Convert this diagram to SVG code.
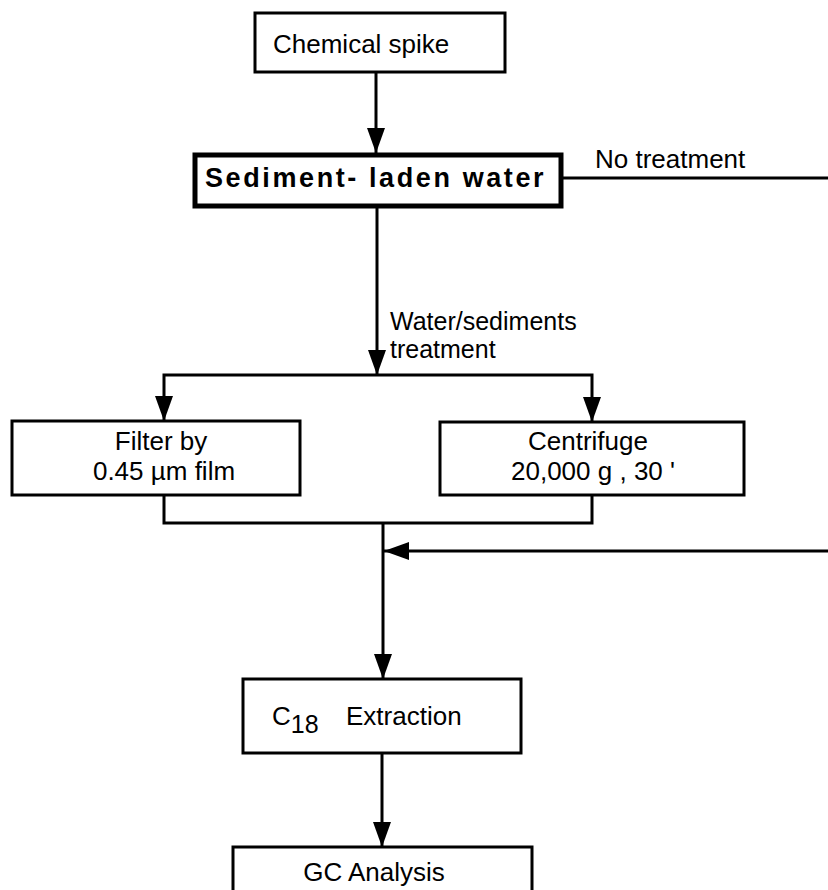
<svg xmlns="http://www.w3.org/2000/svg" width="828" height="890" viewBox="0 0 828 890">
<style>
  .box { fill: #fff; stroke: #000; stroke-width: 3; }
  .thick { fill: #fff; stroke: #000; stroke-width: 5; }
  .t { font-family: "Liberation Sans", Arial, sans-serif; font-size: 26px; fill: #000; }
  .lbl { font-family: "Liberation Sans", Arial, sans-serif; font-size: 25px; fill: #000; }
  .b { font-family: "Liberation Sans", Arial, sans-serif; font-size: 27px; font-weight: bold; fill: #000; letter-spacing: 2.6px; }
  .c { fill: none; stroke: #000; stroke-width: 3; }
</style>
<defs>
  <marker id="arr" markerUnits="userSpaceOnUse" markerWidth="26" markerHeight="20" refX="25" refY="10" orient="auto">
    <path d="M0,1 L25,10 L0,19 z" fill="#000"/>
  </marker>
</defs>
<rect width="828" height="890" fill="#fff"/>
<g id="connectors">
  <path class="c" d="M376,72 V153" marker-end="url(#arr)"/>
  <path class="c" d="M377,207 V375" marker-end="url(#arr)"/>
  <path class="c" d="M377,375 H164 V421" marker-end="url(#arr)"/>
  <path class="c" d="M377,375 H592 V422" marker-end="url(#arr)"/>
  <path class="c" d="M164,495 V523 H592 V495"/>
  <path class="c" d="M383,523 V679" marker-end="url(#arr)"/>
  <path class="c" d="M563,178 H828"/>
  <path class="c" d="M828,551 H384" marker-end="url(#arr)"/>
  <path class="c" d="M382,753 V847" marker-end="url(#arr)"/>
</g>
<g id="chemical-spike">
  <rect class="box" x="255" y="13" width="250" height="59"/>
  <text class="t" x="273" y="53" font-size="27">Chemical spike</text>
</g>
<g id="sediment-water">
  <rect class="thick" x="195" y="155" width="366" height="51"/>
  <text class="b" x="205" y="187">Sediment- laden water</text>
</g>
<g id="labels">
  <text class="t" x="595" y="168">No treatment</text>
  <text class="lbl" x="390" y="330">Water/sediments</text>
  <text class="lbl" x="390" y="358">treatment</text>
</g>
<g id="filter">
  <rect class="box" x="12" y="421" width="288" height="74"/>
  <text class="t" x="161" y="450" text-anchor="middle">Filter by</text>
  <text class="t" x="164" y="480" text-anchor="middle">0.45 µm film</text>
</g>
<g id="centrifuge">
  <rect class="box" x="440" y="422" width="304" height="73"/>
  <text class="t" x="588" y="450" text-anchor="middle">Centrifuge</text>
  <text class="t" x="593" y="480" text-anchor="middle">20,000 g , 30 '</text>
</g>
<g id="c18-extraction">
  <rect class="box" x="243" y="679" width="278" height="74"/>
  <text class="t" x="272" y="725">C<tspan dy="8" font-size="25">18</tspan><tspan dy="-8" x="346">Extraction</tspan></text>
</g>
<g id="gc-analysis">
  <path class="box" d="M233,895 V847 H532 V895"/>
  <text class="t" x="374" y="881" text-anchor="middle">GC Analysis</text>
</g>
</svg>
